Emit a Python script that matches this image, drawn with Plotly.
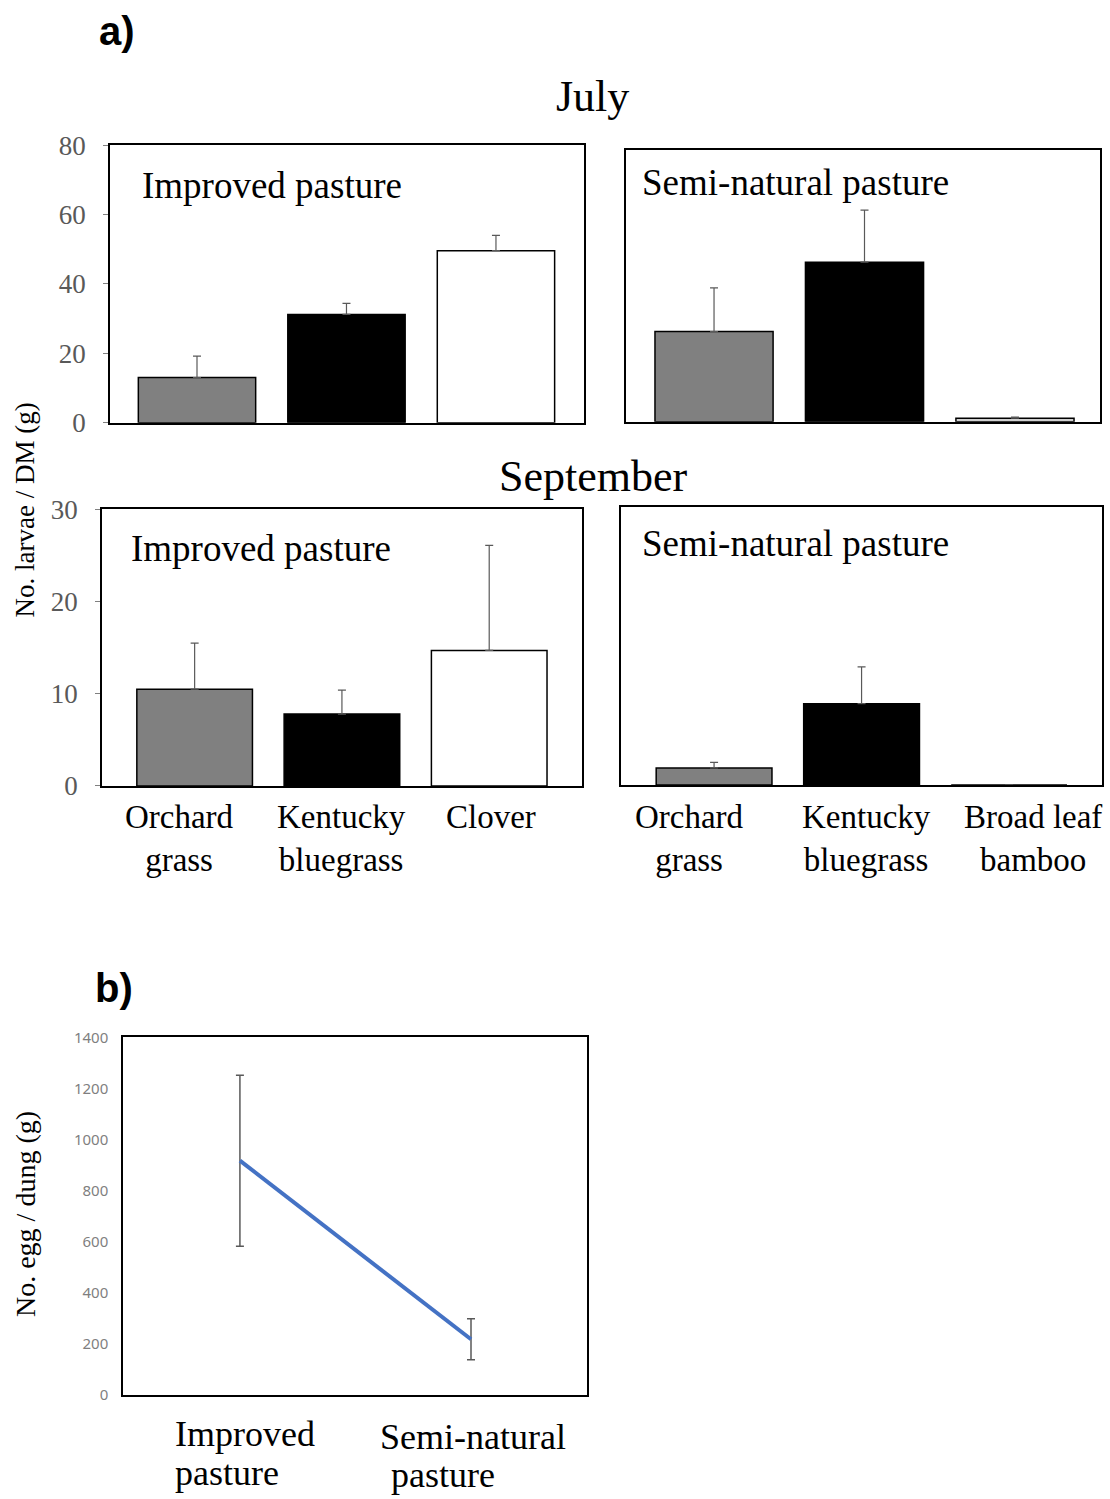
import plotly.graph_objects as go

W, H = 1110, 1499

# ---------------- data ----------------
categories_improved = ["Orchard grass", "Kentucky bluegrass", "Clover"]
categories_semi = ["Orchard grass", "Kentucky bluegrass", "Broad leaf bamboo"]

july_improved = [13.0, 31.2, 49.6]
july_improved_err = [6.2, 3.2, 4.4]
july_semi = [26.0, 46.0, 1.0]
july_semi_err = [12.6, 15.0, 0.35]

sep_improved = [10.5, 7.8, 14.7]
sep_improved_err = [5.0, 2.6, 11.4]
sep_semi = [1.85, 8.85, 0.0]
sep_semi_err = [0.6, 4.0, 0.0]

pasture_line1 = ["Improved", "Semi-natural"]
pasture_line2 = ["pasture", "pasture"]
eggs = [917, 217]
eggs_err = [335, 80]

bar_colors = ["#808080", "#000000", "#ffffff"]
bamboo_color = "#d0d0d0"

improved_labels = ["Orchard<br>grass", "Kentucky<br>bluegrass", "Clover"]
semi_labels = ["Orchard<br>grass", "Kentucky<br>bluegrass", "Broad leaf<br>bamboo"]

# ---------------- helpers ----------------
SQ = 0.982  # vertical compensation observed in rendering


def fx(px):
    return px / W


def fy(py):
    yd = 750 + (py - 750) / SQ
    return 1 - yd / H


SERIF = "Liberation Serif"
GRAY = "#595959"

fig = go.Figure()

panels = [
    ("1", july_improved, july_improved_err, bar_colors, (110, 584), (144, 422), [-0.582, 2.589], [0, 80], True, 20),
    ("2", july_semi, july_semi_err, bar_colors[:2] + [bamboo_color], (626, 1100), (149, 421), [-0.585, 2.565], [0, 272 / 3.475], False, 20),
    ("3", sep_improved, sep_improved_err, bar_colors, (102, 582), (509, 786), [-0.629, 2.63], [0, 30], True, 10),
    ("4", sep_semi, sep_semi_err, bar_colors[:2] + [bamboo_color], (621, 1102), (507, 785), [-0.631, 2.63], [0, 278 / 9.2], False, 10),
]

layout_axes = {}
for name, vals, errs, cols, xd, yd, xr, yr, showy, dt in panels:
    xa = "x" if name == "1" else "x" + name
    ya = "y" if name == "1" else "y" + name
    fig.add_trace(go.Bar(
        x=[0, 1, 2], y=vals, xaxis=xa, yaxis=ya, width=0.785,
        marker=dict(color=cols, line=dict(color="#000000", width=1.5)),
        error_y=dict(type="data", symmetric=False, array=errs, arrayminus=[0, 0, 0],
                     color=GRAY, thickness=1.2, width=4),
        showlegend=False,
    ))
    xkey = "xaxis" if name == "1" else "xaxis" + name
    ykey = "yaxis" if name == "1" else "yaxis" + name
    layout_axes[xkey] = dict(
        domain=[fx(xd[0]), fx(xd[1])], range=xr, anchor=ya,
        showline=True, mirror=True, linecolor="#000000", linewidth=1.5,
        showgrid=False, zeroline=False, showticklabels=False, ticks="",
    )
    layout_axes[ykey] = dict(
        domain=[fy(yd[1]), fy(yd[0])], range=yr, anchor=xa,
        showline=True, mirror=True, linecolor="#000000", linewidth=1.5,
        showgrid=False, zeroline=False,
        showticklabels=showy, ticks="outside" if showy else "", ticklen=5,
        tickcolor="#808080", dtick=dt, tick0=0,
        tickfont=dict(family=SERIF, size=27, color=GRAY),
        ticklabelstandoff=12,
    )

# panel b line
fig.add_trace(go.Scatter(
    x=[0, 1], y=eggs, xaxis="x5", yaxis="y5", mode="lines",
    line=dict(color="#4472C4", width=4),
    error_y=dict(type="data", array=eggs_err, color=GRAY, thickness=1.5, width=4),
    showlegend=False,
))
layout_axes["xaxis5"] = dict(
    domain=[fx(123), fx(587)], range=[-0.506, 1.502], anchor="y5",
    showline=True, mirror=True, linecolor="#000000", linewidth=1.5,
    showgrid=False, zeroline=False, showticklabels=False, ticks="",
)
layout_axes["yaxis5"] = dict(
    domain=[fy(1396), fy(1038)], range=[0, 1400], anchor="x5",
    showline=True, mirror=True, linecolor="#000000", linewidth=1.5,
    showgrid=False, zeroline=False, ticks="", dtick=200, tick0=0,
    tickfont=dict(family="Noto Sans", size=15, color="#7f7f7f"),
    ticklabelstandoff=10,
)

annotations = []


def text(x, y, s, size, family=SERIF, color="#000000", xanchor="center",
         yanchor="middle", angle=0, bold=False):
    if bold:
        s = "<b>" + s + "</b>"
    annotations.append(dict(
        x=fx(x), y=fy(y), xref="paper", yref="paper", text=s, showarrow=False,
        xanchor=xanchor, yanchor=yanchor, textangle=angle,
        font=dict(family=family, size=size, color=color),
    ))


# panel labels and titles
text(97, 30, "a)", 40, family="Liberation Sans", xanchor="left", bold=True)
text(93, 988, "b)", 40, family="Liberation Sans", xanchor="left", bold=True)
text(592, 95, "July", 44)
text(593, 476, "September", 44)

# in-panel labels
text(140, 184, "Improved pasture", 37, xanchor="left")
text(640, 181, "Semi-natural pasture", 37, xanchor="left")
text(129, 548, "Improved pasture", 37, xanchor="left")
text(640, 543, "Semi-natural pasture", 37, xanchor="left")

# y axis titles
text(25, 510, "No. larvae / DM (g)", 27, angle=-90)
text(25, 1215, "No. egg / dung (g)", 28, angle=-90)

# category labels under September panels
for cx, lab in zip([179, 341, 491], improved_labels):
    text(cx, 797, lab, 33, yanchor="top")
for cx, lab in zip([689, 866, 1033], semi_labels):
    text(cx, 797, lab, 33, yanchor="top")

# category labels under panel b
for cx, cy1, cy2, l1, l2 in zip([245, 473], [1435, 1438], [1474, 1476], pasture_line1, pasture_line2):
    text(cx, cy1, l1, 36)
    text(cx - 30 if l1.startswith("Semi") else cx - 18, cy2, l2, 36)

fig.update_layout(
    width=W, height=H,
    margin=dict(l=0, r=0, t=0, b=0),
    paper_bgcolor="#ffffff", plot_bgcolor="#ffffff",
    annotations=annotations,
    bargap=0.2,
    **layout_axes,
)

fig.write_html("out.html")
